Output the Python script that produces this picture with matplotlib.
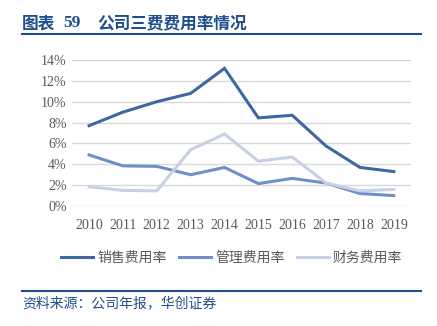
import matplotlib.pyplot as plt
from matplotlib.lines import Line2D

plt.rcParams['font.family'] = ['Liberation Serif', 'Noto Sans CJK SC']

years = ['2010', '2011', '2012', '2013', '2014', '2015', '2016', '2017', '2018', '2019']
sales_rate = [7.7, 9.0, 10.0, 10.8, 13.2, 8.45, 8.7, 5.75, 3.7, 3.3]
admin_rate = [4.9, 3.85, 3.8, 3.0, 3.7, 2.15, 2.65, 2.2, 1.2, 1.0]
finance_rate = [1.85, 1.5, 1.45, 5.4, 6.9, 4.3, 4.7, 2.2, 1.45, 1.6]
series_names = ['销售费用率', '管理费用率', '财务费用率']
colors = ['#3F68A3', '#6F8FC9', '#C7D1E5']

fig = plt.figure(figsize=(4.37, 3.26), dpi=100)
ax = fig.add_axes([0.165, 0.368, 0.775, 0.448])

x = range(len(years))
for vals, c in zip([sales_rate, admin_rate, finance_rate], colors):
    ax.plot(x, vals, color=c, lw=2.2, solid_joinstyle='miter')

ax.set_xlim(-0.5, len(years) - 0.5)
ax.set_ylim(0, 14)
ax.set_yticks(range(0, 15, 2))
ax.set_yticklabels([f'{v}%' for v in range(0, 15, 2)])
ax.set_xticks(list(x))
ax.set_xticklabels(years)
ax.grid(axis='y', color='#D9D9D9', lw=1)
ax.set_axisbelow(True)
for s in ax.spines.values():
    s.set_visible(False)
ax.tick_params(length=0, labelsize=10, labelcolor='#595959')
ax.tick_params(axis='x', pad=9)
ax.tick_params(axis='y', pad=4)

handles = [Line2D([], [], color=c, lw=2.2) for c in colors]
leg = fig.legend(handles, series_names, loc='center', bbox_to_anchor=(0.53, 0.209),
                 ncol=3, frameon=False, handlelength=2.3, handletextpad=0.3,
                 columnspacing=0.9, prop={'family': 'Noto Sans CJK SC', 'size': 10})
for t in leg.get_texts():
    t.set_color('#595959')

title_color = '#1F4E8C'
fig.text(0.05, 0.928, '图表', fontsize=12, fontweight='bold',
         color=title_color, family=['Noto Sans CJK SC'], va='center')
fig.text(0.144, 0.928, '59', fontsize=12.5, fontweight='bold',
         color=title_color, family=['Liberation Serif'], va='center')
fig.text(0.222, 0.928, '公司三费费用率情况', fontsize=12, fontweight='bold',
         color=title_color, family=['Noto Sans CJK SC'], va='center')
fig.add_artist(Line2D([0.05, 0.964], [0.896, 0.896], color=title_color, lw=1.5))
fig.add_artist(Line2D([0.05, 0.964], [0.107, 0.107], color=title_color, lw=1.5))
fig.text(0.052, 0.07, '资料来源：公司年报，华创证券', fontsize=10, color=title_color,
         family=['Noto Sans CJK SC'], va='center')

fig.savefig('out.png', dpi=100)
